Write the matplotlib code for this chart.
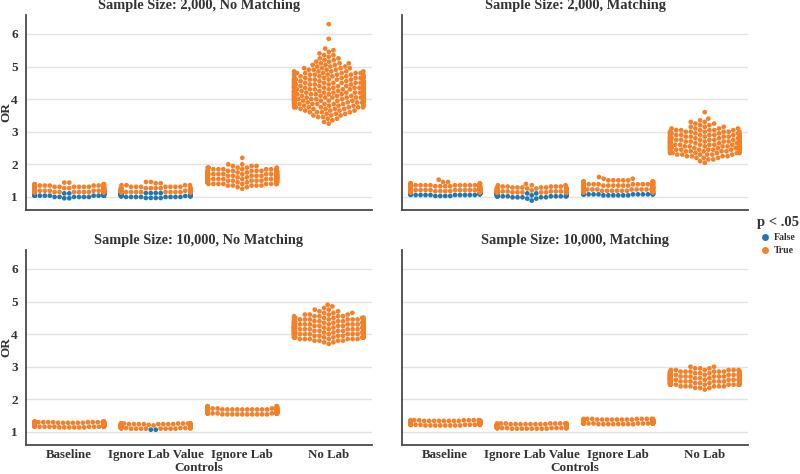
import warnings
warnings.filterwarnings("ignore")
import numpy as np
import pandas as pd
import matplotlib
matplotlib.use("Agg")
import matplotlib.pyplot as plt
from matplotlib.lines import Line2D
import seaborn as sns

# ---------------- data ----------------
CATEGORIES = ["Baseline", "Ignore Lab Value", "Ignore Lab", "No Lab"]
TITLES = ["Sample Size: 2,000, No Matching", "Sample Size: 2,000, Matching",
          "Sample Size: 10,000, No Matching", "Sample Size: 10,000, Matching"]
HUE_LEVELS = ["False", "True"]
Y_TICKS = [1, 2, 3, 4, 5, 6]

# Panel A: 2,000, No Matching
A_base_false_v = [0.96, 1.00, 1.04, 1.08, 1.11]
A_base_false_n = [2, 6, 14, 22, 18]
A_base_true_v = [1.15, 1.19, 1.23, 1.27, 1.31, 1.35, 1.39, 1.44]
A_base_true_n = [26, 30, 28, 22, 14, 9, 6, 2]
A_ilv_false_v = [0.97, 1.00, 1.03, 1.06, 1.09, 1.12]
A_ilv_false_n = [4, 8, 14, 22, 26, 22]
A_ilv_true_v = [1.15, 1.19, 1.23, 1.27, 1.31, 1.36, 1.42, 1.46]
A_ilv_true_n = [30, 26, 20, 12, 7, 4, 2, 2]
A_il_true_v = [1.25, 1.30, 1.35, 1.40, 1.45, 1.50, 1.55, 1.60, 1.65, 1.70, 1.75,
               1.80, 1.85, 1.90, 1.95, 2.00, 2.20]
A_il_true_n = [1, 2, 5, 9, 14, 19, 22, 24, 22, 19, 15, 11, 7, 5, 3, 2, 1]
A_nl_true_v = [3.25, 3.30, 3.35, 3.40, 3.45, 3.50, 3.55, 3.60, 3.65, 3.70, 3.75,
               3.80, 3.85, 3.90, 3.95, 4.00, 4.05, 4.10, 4.15, 4.20, 4.25, 4.30,
               4.35, 4.40, 4.45, 4.50, 4.55, 4.60, 4.65, 4.70, 4.75, 4.80, 4.85,
               4.90, 4.95, 5.00, 5.05, 5.10, 5.15, 5.20, 5.25, 5.30, 5.35, 5.40,
               5.45, 5.50, 5.55, 5.85, 6.30]
A_nl_true_n = [1, 1, 1, 2, 2, 3, 3, 4, 4, 5, 7,
               8, 8, 9, 9, 10, 10, 11, 11, 11, 11, 11,
               10, 10, 10, 9, 9, 8, 8, 7, 7, 6, 5,
               4, 4, 3, 3, 3, 2, 2, 2, 1, 2, 1,
               1, 1, 1, 1, 1]

# Panel B: 2,000, Matching
B_base_false_v = [1.03, 1.06, 1.09, 1.12]
B_base_false_n = [4, 10, 16, 14]
B_base_true_v = [1.15, 1.18, 1.21, 1.24, 1.27, 1.30, 1.33, 1.36, 1.39, 1.42, 1.46, 1.53]
B_base_true_n = [18, 20, 20, 18, 16, 14, 12, 9, 6, 4, 2, 1]
B_ilv_false_v = [0.89, 0.95, 0.99, 1.02, 1.05, 1.08, 1.11]
B_ilv_false_n = [1, 2, 5, 10, 16, 22, 20]
B_ilv_true_v = [1.14, 1.17, 1.20, 1.23, 1.26, 1.29, 1.32, 1.36, 1.40]
B_ilv_true_n = [22, 20, 18, 14, 10, 7, 5, 3, 1]
B_il_false_v = [1.05, 1.08, 1.11]
B_il_false_n = [6, 12, 14]
B_il_true_v = [1.15, 1.19, 1.23, 1.27, 1.31, 1.35, 1.39, 1.43, 1.47, 1.51, 1.56, 1.61]
B_il_true_n = [12, 16, 18, 18, 17, 16, 14, 11, 8, 5, 2, 1]
B_nl_true_v = [2.05, 2.10, 2.15, 2.20, 2.25, 2.30, 2.35, 2.40, 2.45, 2.50, 2.55,
               2.60, 2.65, 2.70, 2.75, 2.80, 2.85, 2.90, 2.95, 3.00, 3.05, 3.10,
               3.15, 3.20, 3.25, 3.30, 3.35, 3.40, 3.60]
B_nl_true_n = [1, 1, 2, 3, 4, 6, 8, 9, 10, 11, 11,
               12, 12, 12, 11, 11, 10, 9, 9, 8, 6, 4,
               3, 2, 2, 2, 1, 1, 1]

# Panel C: 10,000, No Matching
C_base_true_v = [1.14, 1.16, 1.18, 1.20, 1.22, 1.24, 1.26, 1.28, 1.30, 1.32]
C_base_true_n = [6, 12, 20, 26, 30, 30, 26, 20, 12, 6]
C_ilv_false_v = [1.07]
C_ilv_false_n = [2]
C_ilv_true_v = [1.10, 1.12, 1.14, 1.16, 1.18, 1.20, 1.22, 1.24, 1.26]
C_ilv_true_n = [8, 14, 22, 28, 30, 28, 22, 14, 8]
C_il_true_v = [1.54, 1.57, 1.60, 1.63, 1.66, 1.69, 1.72, 1.75, 1.79]
C_il_true_n = [10, 18, 26, 32, 32, 28, 20, 12, 4]
C_nl_true_v = [3.70, 3.75, 3.80, 3.85, 3.90, 3.95, 4.00, 4.05, 4.10, 4.15, 4.20,
               4.25, 4.30, 4.35, 4.40, 4.45, 4.50, 4.55, 4.60, 4.65, 4.70, 4.75,
               4.80, 4.85, 4.90]
C_nl_true_n = [1, 2, 4, 7, 10, 13, 15, 17, 18, 18, 18,
               17, 15, 13, 11, 9, 7, 5, 4, 3, 2, 2,
               1, 1, 1]

# Panel D: 10,000, Matching
D_base_true_v = [1.20, 1.22, 1.24, 1.26, 1.28, 1.30, 1.32, 1.34, 1.36]
D_base_true_n = [8, 14, 22, 28, 30, 28, 22, 14, 8]
D_ilv_true_v = [1.10, 1.12, 1.14, 1.16, 1.18, 1.20, 1.22, 1.24, 1.26]
D_ilv_true_n = [8, 14, 22, 28, 30, 28, 22, 14, 8]
D_il_true_v = [1.24, 1.26, 1.28, 1.30, 1.32, 1.34, 1.36, 1.38, 1.40]
D_il_true_n = [8, 14, 22, 28, 30, 28, 22, 14, 8]
D_nl_true_v = [2.30, 2.35, 2.40, 2.45, 2.50, 2.55, 2.60, 2.65, 2.70, 2.75, 2.80,
               2.85, 2.90, 2.95, 3.00]
D_nl_true_n = [1, 3, 6, 10, 14, 17, 19, 20, 19, 17, 14, 10, 6, 3, 2]

PANELS = [
    [("Baseline", "False", A_base_false_v, A_base_false_n),
     ("Baseline", "True", A_base_true_v, A_base_true_n),
     ("Ignore Lab Value", "False", A_ilv_false_v, A_ilv_false_n),
     ("Ignore Lab Value", "True", A_ilv_true_v, A_ilv_true_n),
     ("Ignore Lab", "True", A_il_true_v, A_il_true_n),
     ("No Lab", "True", A_nl_true_v, A_nl_true_n)],
    [("Baseline", "False", B_base_false_v, B_base_false_n),
     ("Baseline", "True", B_base_true_v, B_base_true_n),
     ("Ignore Lab Value", "False", B_ilv_false_v, B_ilv_false_n),
     ("Ignore Lab Value", "True", B_ilv_true_v, B_ilv_true_n),
     ("Ignore Lab", "False", B_il_false_v, B_il_false_n),
     ("Ignore Lab", "True", B_il_true_v, B_il_true_n),
     ("No Lab", "True", B_nl_true_v, B_nl_true_n)],
    [("Baseline", "True", C_base_true_v, C_base_true_n),
     ("Ignore Lab Value", "False", C_ilv_false_v, C_ilv_false_n),
     ("Ignore Lab Value", "True", C_ilv_true_v, C_ilv_true_n),
     ("Ignore Lab", "True", C_il_true_v, C_il_true_n),
     ("No Lab", "True", C_nl_true_v, C_nl_true_n)],
    [("Baseline", "True", D_base_true_v, D_base_true_n),
     ("Ignore Lab Value", "True", D_ilv_true_v, D_ilv_true_n),
     ("Ignore Lab", "True", D_il_true_v, D_il_true_n),
     ("No Lab", "True", D_nl_true_v, D_nl_true_n)],
]

# ---------------- styling ----------------
BLUE = "#1f77b4"
ORANGE = "#f5802a"
PALETTE = {"False": BLUE, "True": ORANGE}
SPINE = "#4a4a4a"
GRID = "#e3e3e3"
TEXT = "#333333"
FONT = ["Liberation Serif", "DejaVu Serif"]

plt.rcParams["font.family"] = FONT
plt.rcParams["font.weight"] = "bold"


def frame(parts):
    rows = []
    for cat, sig, vals, cnts in parts:
        v = np.repeat(np.asarray(vals, float), cnts)
        rows.append(pd.DataFrame({"Controls": cat, "OR": v, "sig": sig}))
    return pd.concat(rows, ignore_index=True)


fig = plt.figure(figsize=(8.0, 4.74), dpi=100)
W, H = 800.0, 474.0
boxes = [(26, 15, 372, 210), (402, 15, 748, 210),
         (26, 250, 372, 445), (402, 250, 748, 445)]

for i, (parts, title, box) in enumerate(zip(PANELS, TITLES, boxes)):
    x0, y0, x1, y1 = box
    ax = fig.add_axes([x0 / W, 1 - y1 / H, (x1 - x0) / W, (y1 - y0) / H])
    df = frame(parts)
    sns.swarmplot(data=df, x="Controls", y="OR", hue="sig", order=CATEGORIES,
                  hue_order=HUE_LEVELS, palette=PALETTE, size=3.4, ax=ax,
                  legend=False, linewidth=0)
    ax.set_xlim(-0.5, 3.5)
    ax.set_ylim(0.6, 6.58)
    ax.set_yticks(Y_TICKS)
    ax.grid(axis="y", color=GRID, linewidth=1.0)
    ax.grid(axis="x", visible=False)
    ax.set_axisbelow(True)
    for s in ["top", "right"]:
        ax.spines[s].set_visible(False)
    for s in ["left", "bottom"]:
        ax.spines[s].set_color(SPINE)
        ax.spines[s].set_linewidth(1.3)
    ax.tick_params(axis="y", length=0, pad=6, labelsize=9.5, colors=TEXT)
    ax.tick_params(axis="x", length=0, pad=3, labelsize=9.3, colors=TEXT)
    ax.set_xlabel("")
    ax.set_ylabel("")
    for lab in ax.get_xticklabels() + ax.get_yticklabels():
        lab.set_fontweight("bold")
        lab.set_color(TEXT)
    if i % 2 == 1:
        ax.set_yticklabels([])
    if i < 2:
        ax.set_xticklabels([])
    ax.set_title(title, fontsize=10.4, fontweight="bold", color=TEXT, pad=4)
    if i % 2 == 0:
        fig.text(6 / W, 1 - ((y0 + y1) / 2) / H, "OR", rotation=90, ha="center",
                 va="center", fontsize=9.5, fontweight="bold", color=TEXT)
    if i >= 2:
        fig.text(((x0 + x1) / 2) / W, 1 - 468 / H, "Controls", ha="center",
                 va="center", fontsize=9.5, fontweight="bold", color=TEXT)

handles = [Line2D([], [], marker="o", linestyle="", markersize=5,
                  markerfacecolor=PALETTE[h], markeredgewidth=0, label=h)
           for h in HUE_LEVELS]
leg = fig.legend(handles=handles, title="p < .05", loc="upper left",
                 bbox_to_anchor=(748 / W, 1 - 207 / H), frameon=False,
                 prop={"family": FONT, "weight": "bold", "size": 7},
                 handletextpad=0.4, labelspacing=0.45, handlelength=1.0)
leg.get_title().set_fontsize(10.5)
leg.get_title().set_fontweight("bold")
leg.get_title().set_color(TEXT)
for t in leg.get_texts():
    t.set_color(TEXT)

fig.savefig("out.png", dpi=100)
